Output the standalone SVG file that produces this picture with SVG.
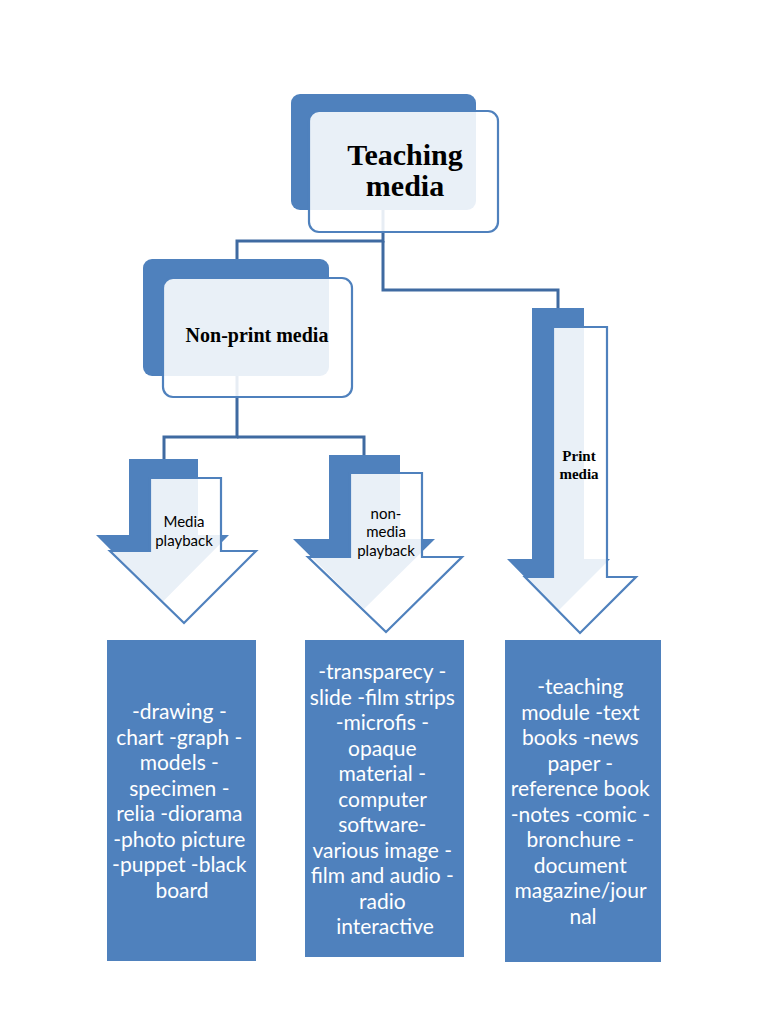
<svg xmlns="http://www.w3.org/2000/svg" width="768" height="1024" viewBox="0 0 768 1024">
<style>
.dark{fill:#4f81bd}
.light{fill:#ffffff;fill-opacity:0.88;stroke:#4f81bd;stroke-width:2.2}
.conn{fill:none;stroke:#3f6aa1;stroke-width:3}
.serif{font-family:"Liberation Serif","Times New Roman",serif;font-weight:bold;fill:#000;text-anchor:middle}
.sans{font-family:Lato,"Open Sans",sans-serif;fill:#000;text-anchor:middle}
.box{fill:#4f81bd}
.btxt{font-family:Lato,"Open Sans",sans-serif;font-size:21px;fill:#fff;text-anchor:middle}
</style>
<rect width="768" height="1024" fill="#fff"/>
<g id="connectors">
<path class="conn" d="M383,210 V241 H237 V259"/>
<path class="conn" d="M383,241 V290 H558 V308"/>
<path class="conn" d="M237,376 V437 H164 V459"/>
<path class="conn" d="M237,437 H364 V455"/>
</g>
<g id="teaching-media">
<rect class="dark" x="291" y="94" width="185" height="116" rx="9"/>
<rect class="light" x="309" y="111" width="189" height="121" rx="10"/>
<text class="serif" font-size="30" x="405" y="165">Teaching</text>
<text class="serif" font-size="30" x="405" y="196">media</text>
</g>
<g id="non-print-media">
<rect class="dark" x="143" y="259" width="186" height="117" rx="9"/>
<rect class="light" x="163" y="278" width="189" height="119" rx="10"/>
<text class="serif" font-size="20" x="257" y="342">Non-print media</text>
</g>
<g id="media-playback">
<path class="dark" d="M129,459 H198 V535 H229 L162.5,602 L96,535 H129 Z"/>
<path class="light" d="M150,478 H221 V551 H256 L184,623 L110,551 H150 Z"/>
<text class="sans" font-size="15" x="184" y="527">Media</text>
<text class="sans" font-size="15" x="184" y="546">playback</text>
</g>
<g id="non-media-playback">
<path class="dark" d="M329,455 H400 V539 H435 L364,609 L293,539 H329 Z"/>
<path class="light" d="M350,473 H422 V557 H462 L386,632 L308,557 H350 Z"/>
<text class="sans" font-size="15" x="386" y="519">non-</text>
<text class="sans" font-size="15" x="386" y="537">media</text>
<text class="sans" font-size="15" x="386" y="556">playback</text>
</g>
<g id="print-media">
<path class="dark" d="M532,308 H584 V559 H610 L558,611 L507,559 H532 Z"/>
<path class="light" d="M553,327 H607 V577 H636 L580,633 L525,577 H553 Z"/>
<text class="serif" font-size="15" x="579" y="461">Print</text>
<text class="serif" font-size="15" x="579" y="479">media</text>
</g>
<g id="box-media-playback">
<rect class="box" x="107" y="640" width="149" height="321"/>
<text class="btxt">
<tspan x="182" y="719">-drawing -</tspan>
<tspan x="182" y="744.5">chart -graph -</tspan>
<tspan x="182" y="770">models -</tspan>
<tspan x="182" y="795.5">specimen -</tspan>
<tspan x="182" y="821">relia -diorama</tspan>
<tspan x="182" y="846.5">-photo picture</tspan>
<tspan x="182" y="872">-puppet -black</tspan>
<tspan x="182" y="897.5">board</tspan>
</text>
</g>
<g id="box-non-media-playback">
<rect class="box" x="305" y="640" width="159" height="317"/>
<text class="btxt">
<tspan x="385" y="679">-transparecy  -</tspan>
<tspan x="385" y="704.5">slide -film strips</tspan>
<tspan x="385" y="730">-microfis -</tspan>
<tspan x="385" y="755.5">opaque</tspan>
<tspan x="385" y="781">material -</tspan>
<tspan x="385" y="806.5">computer</tspan>
<tspan x="385" y="832">software-</tspan>
<tspan x="385" y="857.5">various image -</tspan>
<tspan x="385" y="883">film and audio -</tspan>
<tspan x="385" y="908.5">radio</tspan>
<tspan x="385" y="934">interactive</tspan>
</text>
</g>
<g id="box-print-media">
<rect class="box" x="505" y="640" width="156" height="322"/>
<text class="btxt">
<tspan x="583" y="694">-teaching</tspan>
<tspan x="583" y="719.5">module -text</tspan>
<tspan x="583" y="745">books -news</tspan>
<tspan x="583" y="770.5">paper -</tspan>
<tspan x="583" y="796">reference book</tspan>
<tspan x="583" y="821.5">-notes -comic -</tspan>
<tspan x="583" y="847">bronchure -</tspan>
<tspan x="583" y="872.5">document</tspan>
<tspan x="583" y="898">magazine/jour</tspan>
<tspan x="583" y="923.5">nal</tspan>
</text>
</g>
</svg>
